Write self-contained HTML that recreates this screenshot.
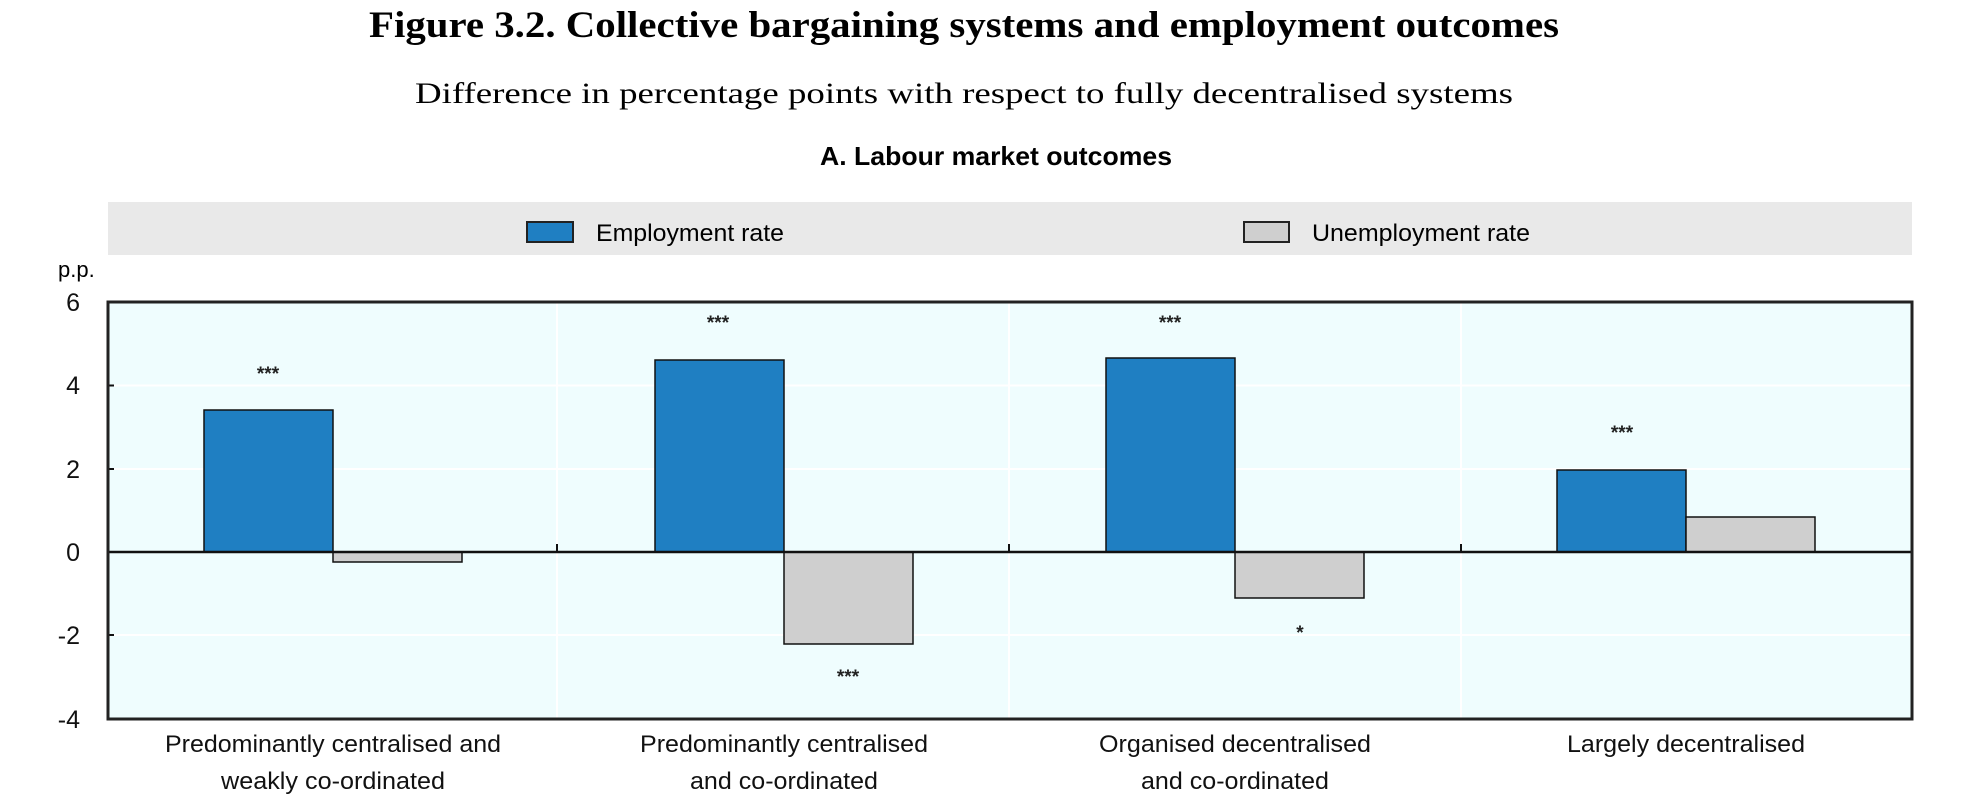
<!DOCTYPE html>
<html><head><meta charset="utf-8"><style>
html,body{margin:0;padding:0;background:#fff;}
svg{display:block;}
</style></head><body>
<svg width="1972" height="812" xmlns="http://www.w3.org/2000/svg">
<text x="964" y="37" text-anchor="middle" font-family="Liberation Serif, serif" font-weight="bold" font-size="37" textLength="1190" lengthAdjust="spacingAndGlyphs">Figure 3.2. Collective bargaining systems and employment outcomes</text>
<text x="964" y="103" text-anchor="middle" font-family="Liberation Serif, serif" font-size="30" textLength="1098" lengthAdjust="spacingAndGlyphs">Difference in percentage points with respect to fully decentralised systems</text>
<text x="996" y="165" text-anchor="middle" font-family="Liberation Sans, sans-serif" font-weight="bold" font-size="26" textLength="352" lengthAdjust="spacingAndGlyphs">A. Labour market outcomes</text>
<rect x="108" y="202" width="1804" height="53" fill="#e9e9e9"/>
<rect x="527" y="222" width="46" height="20" fill="#1f7fc2" stroke="#222" stroke-width="2"/>
<text x="596" y="241" font-family="Liberation Sans, sans-serif" font-size="24" textLength="188" lengthAdjust="spacingAndGlyphs">Employment rate</text>
<rect x="1244" y="222" width="45" height="20" fill="#cfcfcf" stroke="#222" stroke-width="2"/>
<text x="1312" y="241" font-family="Liberation Sans, sans-serif" font-size="24" textLength="218" lengthAdjust="spacingAndGlyphs">Unemployment rate</text>
<text x="58" y="277" font-family="Liberation Sans, sans-serif" font-size="22">p.p.</text>
<rect x="108" y="302" width="1804" height="417" fill="#effdfe"/>
<g stroke="#fff" stroke-width="2">
<line x1="108" y1="385.5" x2="1912" y2="385.5"/><line x1="108" y1="469" x2="1912" y2="469"/>
<line x1="108" y1="635" x2="1912" y2="635"/>
<line x1="557" y1="302" x2="557" y2="719"/><line x1="1009" y1="302" x2="1009" y2="719"/><line x1="1461" y1="302" x2="1461" y2="719"/>
</g>
<g stroke="#111" stroke-width="1.5">
<rect x="204" y="410" width="129" height="142" fill="#1f7fc2"/>
<rect x="333" y="552" width="129" height="10" fill="#cfcfcf"/>
<rect x="655" y="360" width="129" height="192" fill="#1f7fc2"/>
<rect x="784" y="552" width="129" height="92" fill="#cfcfcf"/>
<rect x="1106" y="358" width="129" height="194" fill="#1f7fc2"/>
<rect x="1235" y="552" width="129" height="46" fill="#cfcfcf"/>
<rect x="1557" y="470" width="129" height="82" fill="#1f7fc2"/>
<rect x="1686" y="517" width="129" height="35" fill="#cfcfcf"/>
</g>
<line x1="108" y1="552" x2="1912" y2="552" stroke="#111" stroke-width="2.5"/>
<g stroke="#111" stroke-width="2"><line x1="557" y1="552" x2="557" y2="544"/><line x1="1009" y1="552" x2="1009" y2="544"/><line x1="1461" y1="552" x2="1461" y2="544"/>
<line x1="108" y1="385.5" x2="114" y2="385.5"/><line x1="108" y1="469" x2="114" y2="469"/><line x1="108" y1="635" x2="114" y2="635"/></g>
<rect x="108" y="302" width="1804" height="417" fill="none" stroke="#222" stroke-width="3"/>
<g font-family="Liberation Sans, sans-serif" font-size="19" font-weight="bold" text-anchor="middle" fill="#222">
<text x="268" y="380">***</text><text x="718" y="329">***</text><text x="848" y="683">***</text>
<text x="1170" y="329">***</text><text x="1300" y="639">*</text><text x="1622" y="439">***</text>
</g>
<g font-family="Liberation Sans, sans-serif" font-size="25" text-anchor="end" fill="#111">
<text x="80" y="311">6</text><text x="80" y="394">4</text><text x="80" y="478">2</text>
<text x="80" y="561">0</text><text x="80" y="644">-2</text><text x="80" y="728">-4</text>
</g>
<g font-family="Liberation Sans, sans-serif" font-size="24" text-anchor="middle" fill="#111">
<text x="333" y="752" textLength="336" lengthAdjust="spacingAndGlyphs">Predominantly centralised and</text>
<text x="333" y="789" textLength="224" lengthAdjust="spacingAndGlyphs">weakly co-ordinated</text>
<text x="784" y="752" textLength="288" lengthAdjust="spacingAndGlyphs">Predominantly centralised</text>
<text x="784" y="789" textLength="188" lengthAdjust="spacingAndGlyphs">and co-ordinated</text>
<text x="1235" y="752" textLength="272" lengthAdjust="spacingAndGlyphs">Organised decentralised</text>
<text x="1235" y="789" textLength="188" lengthAdjust="spacingAndGlyphs">and co-ordinated</text>
<text x="1686" y="752" textLength="238" lengthAdjust="spacingAndGlyphs">Largely decentralised</text>
</g>
</svg>
</body></html>
